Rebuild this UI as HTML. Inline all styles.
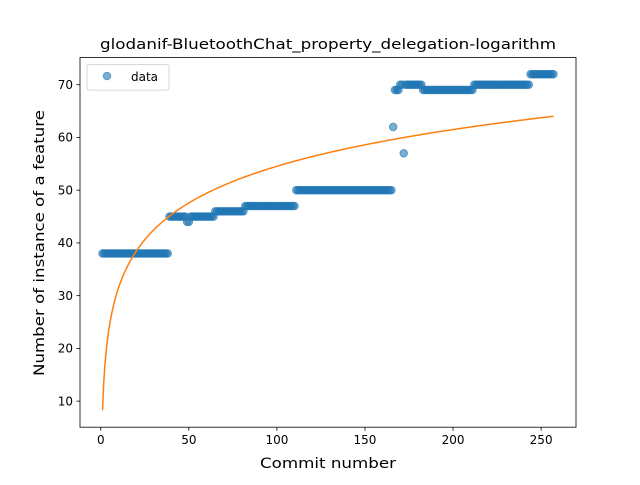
<!DOCTYPE html>
<html><head><meta charset="utf-8"><style>
body{margin:0;background:#fff;font-family:"Liberation Sans","DejaVu Sans",sans-serif;}
svg text{font-family:"DejaVu Sans","Liberation Sans",sans-serif;}
</style></head><body>
<svg id="chart" width="640" height="480" viewBox="0 0 640 480" xmlns="http://www.w3.org/2000/svg">
<rect width="640" height="480" fill="#fff"/>
<text x="328" y="49" font-size="14.4" text-anchor="middle" textLength="456" lengthAdjust="spacingAndGlyphs" fill="#000">glodanif-BluetoothChat_property_delegation-logarithm</text>
<g id="plot"></g>
<rect x="80" y="57.6" width="496" height="369.6" fill="none" stroke="#000" stroke-width="0.8"/>
<g id="xticks"></g>
<g id="yticks"></g>
<text x="328" y="468" font-size="14.4" text-anchor="middle" textLength="136" lengthAdjust="spacingAndGlyphs">Commit number</text>
<text transform="translate(44,243) rotate(-90)" font-size="14.4" text-anchor="middle" textLength="266" lengthAdjust="spacingAndGlyphs">Number of instance of a feature</text>
<g>
<rect x="87" y="64.6" width="82" height="25.5" rx="2" fill="#fff" fill-opacity="0.8" stroke="#ccc" stroke-width="0.8"/>
<circle cx="107" cy="76" r="3.8" fill="#1f77b4" fill-opacity="0.6" stroke="#1f77b4" stroke-opacity="0.6"/>
<text x="131" y="81" font-size="12">data</text>
</g>
</svg>
<script>
const runStart = [1, 39, 49, 51, 65, 82, 111, 166, 167, 170, 172, 173, 183, 212, 244];
const runEnd   = [38, 48, 50, 64, 81, 110, 165, 166, 169, 171, 172, 182, 211, 243, 257];
const runValue = [38, 45, 44, 45, 46, 47, 50, 62, 69, 70, 57, 70, 69, 70, 72];
const fitA = 8.3;
const fitB = 10.04;
const xTicks = [0, 50, 100, 150, 200, 250];
const yTicks = [10, 20, 30, 40, 50, 60, 70];

const NS = "http://www.w3.org/2000/svg";
const xMin = -11.8, xMax = 269.8, yMin = 5.06, yMax = 75.14;
const L = 80, R = 576, T = 57.6, B = 427.2;
function sx(v){ return L + (v - xMin) / (xMax - xMin) * (R - L); }
function sy(v){ return B - (v - yMin) / (yMax - yMin) * (B - T); }
function mk(tag, attrs, parent){ const e = document.createElementNS(NS, tag); for (const k in attrs) e.setAttribute(k, attrs[k]); parent.appendChild(e); return e; }

const plot = document.getElementById('plot');
const pts = mk('g', {}, plot);


for (let r = 0; r < runStart.length; r++) {
  for (let x = runStart[r]; x <= runEnd[r]; x++) {
    const c = mk('circle', {cx: sx(x), cy: sy(runValue[r]), r: 3.8, fill: '#1f77b4', 'fill-opacity': 0.6, stroke: '#1f77b4', 'stroke-opacity': 0.6, 'stroke-width': 1}, pts);
    
    
  }
}
const xLast = runEnd[runEnd.length - 1];
let d = '';
for (let i = 0; i <= 400; i++) {
  const x = 1 + (xLast - 1) * i / 400;
  d += (i ? 'L' : 'M') + sx(x).toFixed(2) + ' ' + sy(fitA + fitB * Math.log(x)).toFixed(2);
}
const fit = mk('path', {d: d, fill: 'none', stroke: '#ff7f0e', 'stroke-width': 1.5}, plot);



const xg = document.getElementById('xticks');
xTicks.forEach(v => {
  const x = sx(v);
  mk('line', {x1: x, x2: x, y1: B, y2: B + 3.5, stroke: '#000', 'stroke-width': 0.8}, xg);
  const t = mk('text', {x: x, y: B + 17, 'font-size': 12, 'text-anchor': 'middle'}, xg);
  t.textContent = v;
  
  
});
const yg = document.getElementById('yticks');
yTicks.forEach(v => {
  const y = sy(v);
  mk('line', {x1: L - 3.5, x2: L, y1: y, y2: y, stroke: '#000', 'stroke-width': 0.8}, yg);
  const t = mk('text', {x: L - 7, y: y + 4.3, 'font-size': 12, 'text-anchor': 'end'}, yg);
  t.textContent = v;
  
  
});
</script>
</body></html>
